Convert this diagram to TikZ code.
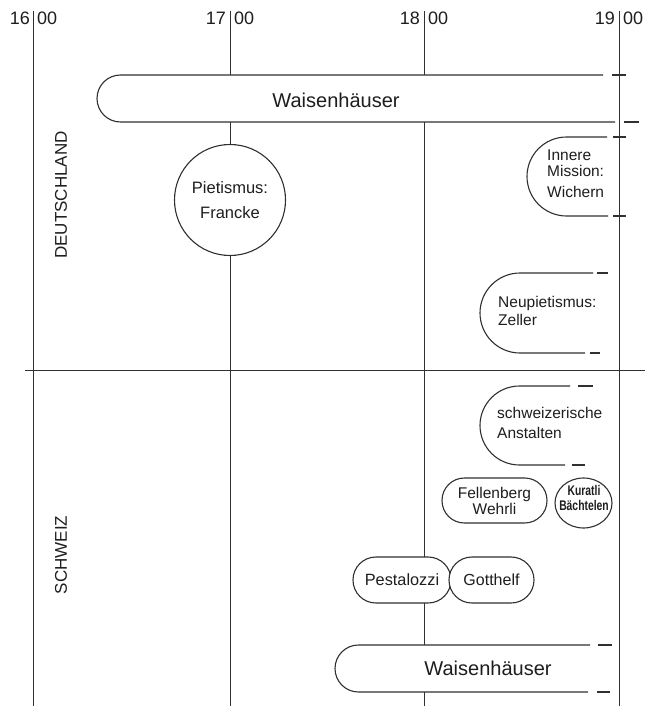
\documentclass[tikz,border=0pt]{standalone}
\usepackage{fontspec}
\setmainfont{Liberation Sans}
\usetikzlibrary{shapes.geometric}
\definecolor{ink}{HTML}{1E1E1E}
\definecolor{lineink}{HTML}{303030}
\begin{document}
\begin{tikzpicture}[x=1pt,y=-1pt,
  every node/.style={text=ink,inner sep=0pt},
  vline/.style={draw=lineink,line width=0.9pt},
  outl/.style={draw=lineink,line width=1.1pt},
  lbl/.style={font=\fontsize{15.5}{17}\selectfont},
  bigl/.style={font=\fontsize{20}{22}\selectfont},
  yr/.style={font=\fontsize{18}{20}\selectfont},
  land/.style={font=\fontsize{17}{19}\selectfont,rotate=90},
  pill/.style={draw=lineink,line width=1.1pt,fill=white,rectangle,lbl,align=center},
]
\fill[white] (0,0) rectangle (662,706);
\useasboundingbox (0,0) rectangle (662,706);

% time axis lines
\draw[vline] (33,11) -- (33,706);
\draw[vline] (230,11) -- (230,706);
\draw[vline] (424,11) -- (424,706);
\draw[vline] (619,11) -- (619,706);
\draw[vline] (25,370) -- (645,370);

% year labels
\node[yr,anchor=east] (y16) at (30,18) {16};
\node[yr,anchor=west] (z16) at (37,18) {00};
\node[yr,anchor=east] (y17) at (226,18) {17};
\node[yr,anchor=west] (z17) at (234,18) {00};
\node[yr,anchor=east] (y18) at (420,18) {18};
\node[yr,anchor=west] (z18) at (428,18) {00};
\node[yr,anchor=east] (y19) at (615,18) {19};
\node[yr,anchor=west] (z19) at (623,18) {00};

% country labels
\node[land] (de) at (61,195) {DEUTSCHLAND};
\node[land] (ch) at (61,555) {SCHWEIZ};

% top Waisenhaeuser
\path[fill=white] (603,75) -- (120.5,75) arc[start angle=90,end angle=270,radius=23.5pt] -- (603,122) -- cycle;
\draw[outl] (603,75) -- (120.5,75) arc[start angle=90,end angle=270,radius=23.5pt] -- (615,122);
\draw[outl] (612,75) -- (626,75);
\draw[outl] (624,122) -- (639,122);
\node[bigl] (w1) at (336,100) {Waisenhäuser};

% Pietismus
\node[circle,draw=lineink,line width=1.1pt,fill=white,minimum size=111pt,font=\fontsize{16.5}{18}\selectfont,align=center] (pf) at (230,200) {Pietismus:\\[7pt]Francke};

% Innere Mission
\path[fill=white] (607,137) -- (566.5,137) arc[start angle=90,end angle=270,radius=39.5pt] -- (607,216) -- cycle;
\draw[outl] (607,137) -- (566.5,137) arc[start angle=90,end angle=270,radius=39.5pt] -- (608,216);
\draw[outl] (613,137) -- (626,137);
\draw[outl] (613,216) -- (626,216);
\node[lbl,anchor=west,align=left] (im) at (547,173.5) {Innere\\[-1pt]Mission:\\[4pt]Wichern};

% Neupietismus
\draw[outl] (593,273) -- (520,273) arc[start angle=90,end angle=270,radius=40pt] -- (585,353);
\draw[outl] (597,273) -- (608,273);
\draw[outl] (590,353) -- (600,353);
\node[lbl,anchor=west,align=left] (np) at (498,311) {Neupietismus:\\[1pt]Zeller};

% schweizerische Anstalten
\draw[outl] (570,386) -- (519.5,386) arc[start angle=90,end angle=270,radius=39.5pt] -- (565,465);
\draw[outl] (578,386) -- (593,386);
\draw[outl] (572,465) -- (585,465);
\node[lbl,anchor=west,align=left] (sa) at (497,423) {schweizerische\\[3pt]Anstalten};

% Fellenberg Wehrli
\node[pill,rounded corners=22.4pt,minimum width=105pt,minimum height=45pt] (fw) at (494.5,500.5) {Fellenberg\\[-1pt]Wehrli};

% Kuratli Baechtelen
\node[ellipse,draw=lineink,line width=1.1pt,fill=white,minimum width=57pt,minimum height=50pt] (ke) at (583.5,503) {};
\node[font=\fontsize{14}{15}\selectfont\bfseries,align=center] (kt) at (584,498) {\scalebox{0.74}[1]{Kuratli}\\[0pt]\scalebox{0.74}[1]{Bächtelen}};

% Pestalozzi, Gotthelf
\node[pill,rounded corners=22.9pt,minimum width=98pt,minimum height=46pt,font=\fontsize{16.3}{18}\selectfont] (pe) at (402,580) {Pestalozzi};
\node[pill,rounded corners=22.9pt,minimum width=85pt,minimum height=46pt,font=\fontsize{16}{18}\selectfont] (go) at (491.5,580) {Gotthelf};

% bottom Waisenhaeuser
\path[fill=white] (590,645) -- (358.5,645) arc[start angle=90,end angle=270,radius=23.5pt] -- (590,692) -- cycle;
\draw[outl] (590,645) -- (358.5,645) arc[start angle=90,end angle=270,radius=23.5pt] -- (588,692);
\draw[outl] (598,645) -- (612,645);
\draw[outl] (597,692) -- (610,692);
\node[bigl] (w2) at (488,668) {Waisenhäuser};
\end{tikzpicture}
\end{document}
